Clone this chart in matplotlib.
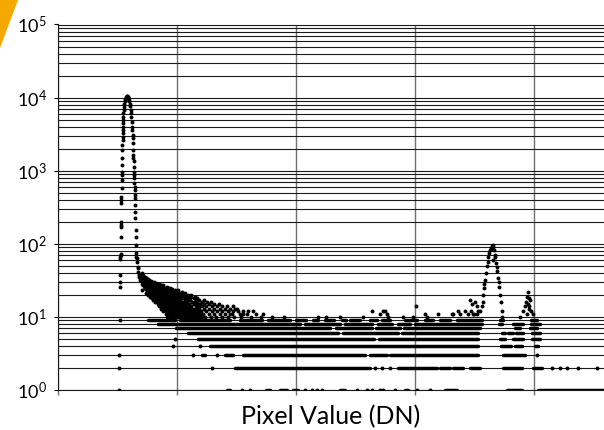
import numpy as np
import matplotlib.pyplot as plt
from matplotlib.ticker import FixedLocator, LogLocator, NullFormatter, FuncFormatter
from matplotlib.patches import Polygon

plt.rcParams['font.family'] = ['Lato', 'DejaVu Sans']

# histogram of pixel values, counts (x in DN)

# main peak near DN 580
peak_dn = [512, 514, 516, 518, 520, 521, 522, 523, 524, 525, 526, 527, 528, 529, 530,
           531, 532, 533, 534, 535, 536, 537, 538, 539, 540, 541, 542, 543, 544, 545,
           546, 547, 548, 549, 550, 551, 552,
           556, 560, 564, 568, 572, 576, 580, 584, 588, 592, 596, 600, 604, 608,
           613, 615, 617, 620, 622, 623, 626, 627, 630, 631, 632, 634, 635, 636, 638,
           639, 640, 641, 643, 644, 645, 646, 647, 648, 649, 651, 652, 655, 656, 658,
           661, 664, 668, 672, 675, 680, 683, 689, 703, 708, 711, 717, 731]
peak_ct = [1, 2, 3, 9, 26, 30, 37, 61, 67, 70, 72, 125, 171, 181, 200,
           361, 397, 441, 580, 746, 870, 970, 1200, 1490, 1920, 2250, 2630, 2920, 3280, 3600,
           4000, 4490, 4940, 5480, 6150, 6770, 7510,
           8300, 9000, 9600, 10000, 10300, 10400, 10450, 10300, 10100, 9800, 9400, 8900, 8300, 7600,
           6770, 6150, 5480, 4710, 4000, 3600, 3070, 2770, 2360, 1920, 1630, 1490, 1340, 1140, 970,
           870, 790, 670, 600, 545, 465, 420, 340, 275, 223, 155, 125, 96, 74, 67,
           63, 56, 48, 41, 46, 35, 38, 32, 34, 23, 30, 27, 25]

# scatter of counts >= 10 after the main peak: count -> DN positions
cloud = {
    40: [702],
    37: [700, 712],
    35: [709, 728],
    34: [706, 735, 741],
    33: [722, 747, 758],
    32: [716, 733, 764],
    31: [714, 752, 761, 781],
    30: [724, 738, 772, 793, 808],
    29: [726, 744, 754, 788, 801, 823],
    28: [705, 744, 766, 777, 812, 830, 846],
    27: [718, 737, 761, 789, 804, 833, 861, 878],
    26: [730, 751, 769, 796, 806, 849, 868, 882, 912],
    25: [727, 757, 771, 786, 815, 824, 866, 901, 922, 943],
    24: [742, 761, 779, 799, 813, 846, 862, 891, 926, 939, 958],
    23: [751, 766, 796, 810, 836, 857, 871, 914, 931, 951, 984, 1011],
    22: [748, 766, 783, 809, 829, 853, 876, 889, 931, 952, 973, 1006, 1041],
    21: [739, 762, 783, 801, 827, 845, 869, 893, 906, 949, 967, 991, 1031, 1066],
    20: [756, 776, 799, 818, 841, 863, 883, 906, 924, 946, 966, 1013, 1033, 1053, 1096, 1116],
    19: [771, 791, 816, 838, 861, 877, 899, 921, 943, 962, 986, 1007, 1027, 1076, 1121, 1147],
    18: [786, 808, 833, 853, 875, 897, 919, 939, 961, 983, 1003, 1046, 1068, 1091, 1139, 1166],
    17: [801, 822, 849, 871, 893, 914, 936, 957, 979, 1000, 1021, 1063, 1085, 1107, 1156, 1186,
         1228],
    16: [817, 841, 863, 886, 907, 931, 953, 974, 996, 1016, 1037, 1060, 1083, 1127, 1148, 1171,
         1206, 1251, 1289],
    15: [836, 857, 879, 903, 926, 947, 969, 990, 1011, 1033, 1056, 1078, 1101, 1144, 1168, 1191,
         1226, 1269, 1311, 1352],
    14: [851, 873, 896, 918, 941, 963, 984, 1008, 1031, 1051, 1073, 1096, 1117, 1163, 1185, 1207,
         1246, 1293, 1333, 1374, 1421, 1468],
    13: [867, 890, 913, 936, 957, 980, 1003, 1026, 1047, 1070, 1093, 1115, 1137, 1160, 1181, 1227,
         1267, 1314, 1357, 1399, 1441, 1487, 1504],
    12: [884, 907, 931, 953, 976, 998, 1019, 1043, 1066, 1088, 1111, 1133, 1154, 1178, 1201, 1247,
         1291, 1337, 1381, 1428, 1470, 1512, 1551, 1596, 1641],
    11: [903, 925, 947, 970, 993, 1016, 1039, 1060, 1081, 1105, 1129, 1150, 1173, 1196, 1217, 1266,
         1309, 1359, 1403, 1445, 1462, 1529, 1554, 1588, 1661, 1721],
    10: [919, 941, 964, 987, 1009, 1031, 1054, 1078, 1101, 1123, 1146, 1169, 1189, 1213, 1237, 1284,
         1331, 1377, 1424, 1481, 1541, 1621, 1702, 1801, 1898],
}

# counts >= 10 in the flat part and the two upper peaks
hi_dn = [2184, 2251, 2369, 2562, 2635, 2705, 2733, 2747, 2761, 2772, 2898, 2982, 3005, 3083,
         3097, 3192, 3307, 3318, 3360, 3377, 3419, 3444, 3461, 3469, 3475, 3486, 3495, 3503,
         3517, 3520, 3528,
         3545, 3559, 3567, 3573, 3578, 3580, 3587, 3594, 3601, 3608, 3615, 3622, 3629, 3637,
         3645, 3646, 3651, 3655, 3657, 3662, 3668, 3671, 3679, 3684, 3690, 3698, 3704, 3707,
         3713, 3718, 3727, 3732,
         3881, 3909, 3923, 3930, 3937, 3940, 3944, 3951, 3953, 3956, 3958, 3965, 3972, 3993]
hi_ct = [10, 10, 10, 10, 12, 11, 12, 12, 11, 10, 10, 10, 14, 11,
         10, 11, 11, 11, 12, 11, 12, 11, 17, 12, 15, 11, 11, 16,
         14, 11, 12,
         12, 14, 16, 20, 25, 28, 32, 40, 49, 57, 66, 74, 82, 88,
         86, 93, 96, 60, 90, 82, 70, 66, 54, 48, 42, 34, 30, 26,
         20, 16, 12, 10,
         10, 12, 14, 16, 19, 11, 15, 22, 18, 13, 14, 17, 12, 11]

# low integer counts: single dots and dense stretches (DN from, DN to)
level_dots = {
    1: [1546, 1613, 2075, 2134, 2176, 2218, 2512, 2596, 2638, 2705, 2730, 2831, 3016, 3125],
    2: [1294, 2663, 2722, 2789, 4150, 4217, 4276, 4368, 4528],
    3: [1134, 1336, 4024],
    4: [966, 1193],
    5: [983],
}
level_runs = {
    1: [(1420, 1445), (1747, 1781), (1865, 1924), (1974, 2016), (2369, 2411), (2915, 2940),
        (3251, 3352), (3772, 3898), (4032, 4586)],
    2: [(1487, 2621), (2856, 3184), (3209, 3293), (3318, 3402), (3461, 3545), (3738, 3898),
        (3990, 4066)],
    3: [(1210, 1235), (1403, 1470), (1554, 2579), (2621, 2764), (2789, 3528), (3738, 3923)],
    4: [(1277, 3528), (3721, 3805), (3839, 3898), (4007, 4032)],
    5: [(1176, 2654), (2696, 3528), (3713, 3755), (3822, 3906), (3982, 4049)],
    6: [(1092, 2352), (2394, 2856), (2890, 3528), (3730, 3755), (3780, 3822), (3847, 3906),
        (3982, 4049)],
    7: [(991, 2285), (2335, 2638), (2671, 2873), (2906, 3545), (3839, 3881), (3965, 4024)],
    8: [(840, 2033), (2075, 2369), (2411, 2638), (2688, 2806), (2856, 2957), (2999, 3562),
        (3704, 3730), (3822, 3906), (3973, 4049)],
    9: [(756, 983), (1025, 1445), (1529, 1714), (1764, 1949), (1999, 2083), (2142, 2184),
        (2243, 2318), (2386, 2419), (2453, 2537), (2621, 2680), (2722, 2789), (2915, 3016),
        (3083, 3150), (3209, 3293), (3352, 3562), (3713, 3738), (3973, 4024)],
}

x_grid = [0, 1000, 2000, 3000, 4000]

fig = plt.figure(figsize=(6.04, 4.30), dpi=100)
ax = fig.add_axes([58 / 604, 1 - 390 / 430, 546 / 604, 365.5 / 430])

pts_x = list(peak_dn) + list(hi_dn)
pts_y = list(peak_ct) + list(hi_ct)
for c, xs in cloud.items():
    pts_x += xs
    pts_y += [c] * len(xs)
for c, xs in level_dots.items():
    pts_x += xs
    pts_y += [c] * len(xs)

ax.scatter(pts_x, pts_y, s=8, c='k', linewidths=0, zorder=3)

run_y, run_a, run_b = [], [], []
for c, runs in level_runs.items():
    for a, b in runs:
        run_y.append(c)
        run_a.append(a)
        run_b.append(b)
ax.hlines(run_y, run_a, run_b, colors='k', linewidth=2.5, capstyle='round', zorder=3)

ax.set_yscale('log')
ax.set_ylim(1, 1e5)
ax.set_xlim(0, 4586)

ax.yaxis.set_major_locator(LogLocator(base=10, numticks=10))
ax.yaxis.set_minor_locator(LogLocator(base=10, subs=np.arange(2, 10), numticks=20))
ax.yaxis.set_minor_formatter(NullFormatter())
ax.yaxis.set_major_formatter(FuncFormatter(lambda v, p: r'$\mathregular{10^{%d}}$' % round(np.log10(v))))
ax.xaxis.set_major_locator(FixedLocator(x_grid))
ax.set_xticklabels([])

ax.set_axisbelow(True)
ax.grid(axis='y', which='both', color='#1a1a1a', linewidth=0.8)
ax.grid(axis='x', which='major', color='#707070', linewidth=1.0)

ax.tick_params(axis='y', which='major', length=3, width=0.8, pad=5, labelsize=13, direction='out')
ax.tick_params(axis='y', which='minor', length=0)
ax.tick_params(axis='x', which='major', length=3.5, width=1.0, color='#707070', direction='out')

ax.spines['right'].set_visible(False)
for side in ['left', 'bottom', 'top']:
    ax.spines[side].set_linewidth(0.8)
    ax.spines[side].set_color('#1a1a1a')

ax.set_xlabel('Pixel Value (DN)', fontsize=18, labelpad=4)

fig.add_artist(Polygon([[0, 1], [18 / 604, 1], [0, 1 - 48 / 430]], closed=True,
                       transform=fig.transFigure, facecolor='#F5A800', edgecolor='none'))

fig.savefig('out.png', dpi=100)
